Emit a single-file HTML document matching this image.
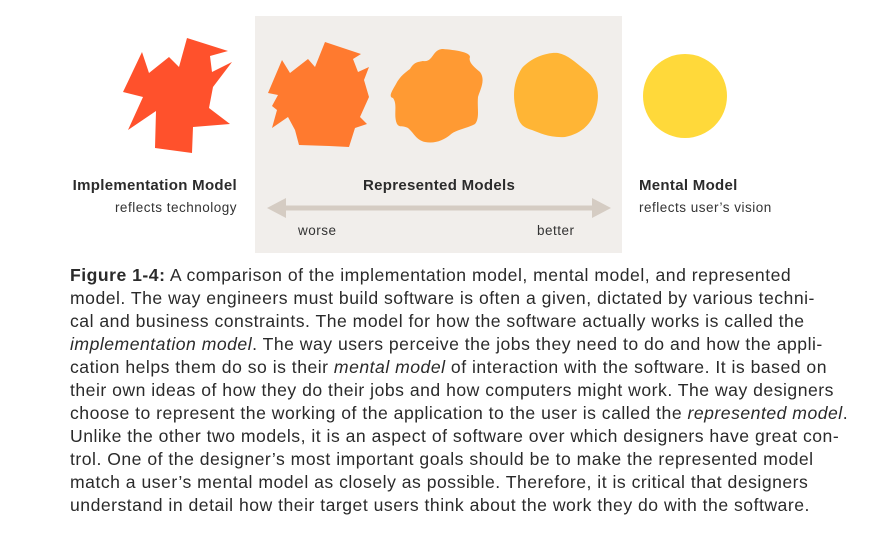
<!DOCTYPE html>
<html><head><meta charset="utf-8"><style>
html,body{margin:0;padding:0;background:#fff;}
body{width:890px;height:542px;position:relative;overflow:hidden;font-family:"Liberation Sans",sans-serif;color:#2b2b2b;}
.a{position:absolute;white-space:nowrap;}
.b{font-weight:bold;font-size:15px;letter-spacing:0.3px;}
.s{font-size:13.5px;color:#333;letter-spacing:0.5px;}
.t{position:absolute;left:70px;font-size:17.6px;white-space:nowrap;color:#2a2a2a;letter-spacing:0.5px;}
</style></head><body>
<svg width="890" height="260" style="position:absolute;left:0;top:0">
<rect x="255" y="16" width="367" height="237" fill="#f1eeeb"/>
<polygon fill="#ff512c" points="187,38 228,51 210,56 212,72 232,62 213,87 209,108 230,124 193,127 192,153 155,148 156,111 128,130 143,97 123,92 142,52 149,73 169,57 179,67"/>
<polygon fill="#ff7a2f" points="325,42 361,54 353,59 358,72 369,67 364,80 369,97 360,117 367,124 355,128 349,147 329,146 299,145 295,130 288,117 272,128 277,110 272,106 278,95 268,93 282,60 290,73 308,59 315,67"/>
<path fill="#ff9a33" d="M443,49 C455,50 470,52 470,57 C468,62 474,67 480,72 C486,80 480,90 478,97 C477,108 480,118 475,124 C468,128 455,130 450,135 C444,140 435,144 425,142 C416,140 414,133 408,128 C402,125 400,128 397,124 C393,115 398,105 393,98 C388,97 392,91 396,84 C400,76 406,72 410,69 C414,62 418,62 423,61 C429,62 431,58 434,54 C437,50 440,49 443,49 Z"/>
<path fill="#ffb535" d="M558,53 C568,55 575,62 585,70 C596,78 600,90 597,105 C594,120 585,133 565,137 C550,138 540,133 532,130 C520,127 518,120 516,110 C512,95 514,80 522,68 C532,57 548,52 558,53 Z"/>
<circle cx="685" cy="96" r="42" fill="#ffd93a"/>
<line x1="278" y1="208" x2="600" y2="208" stroke="#d5ccc3" stroke-width="5"/>
<polygon fill="#d5ccc3" points="267,208 286,198 286,218"/>
<polygon fill="#d5ccc3" points="611,208 592,198 592,218"/>
</svg>
<div class="a b" style="right:653px;top:177px">Implementation Model</div>
<div class="a s" style="right:653px;top:200px">reflects technology</div>
<div class="a b" style="left:363px;top:177px">Represented Models</div>
<div class="a b" style="left:639px;top:177px">Mental Model</div>
<div class="a s" style="left:639px;top:200px">reflects user’s vision</div>
<div class="a s" style="left:298px;top:223px">worse</div>
<div class="a s" style="left:537px;top:223px">better</div>
<div class="t" style="top:265px"><b>Figure 1-4:</b> A comparison of the implementation model, mental model, and represented</div>
<div class="t" style="top:288px">model. The way engineers must build software is often a given, dictated by various techni-</div>
<div class="t" style="top:311px">cal and business constraints. The model for how the software actually works is called the</div>
<div class="t" style="top:334px"><i>implementation model</i>. The way users perceive the jobs they need to do and how the appli-</div>
<div class="t" style="top:357px">cation helps them do so is their <i>mental model</i> of interaction with the software. It is based on</div>
<div class="t" style="top:380px">their own ideas of how they do their jobs and how computers might work. The way designers</div>
<div class="t" style="top:403px">choose to represent the working of the application to the user is called the <i>represented model</i>.</div>
<div class="t" style="top:426px">Unlike the other two models, it is an aspect of software over which designers have great con-</div>
<div class="t" style="top:449px">trol. One of the designer’s most important goals should be to make the represented model</div>
<div class="t" style="top:472px">match a user’s mental model as closely as possible. Therefore, it is critical that designers</div>
<div class="t" style="top:495px">understand in detail how their target users think about the work they do with the software.</div>
</body></html>
